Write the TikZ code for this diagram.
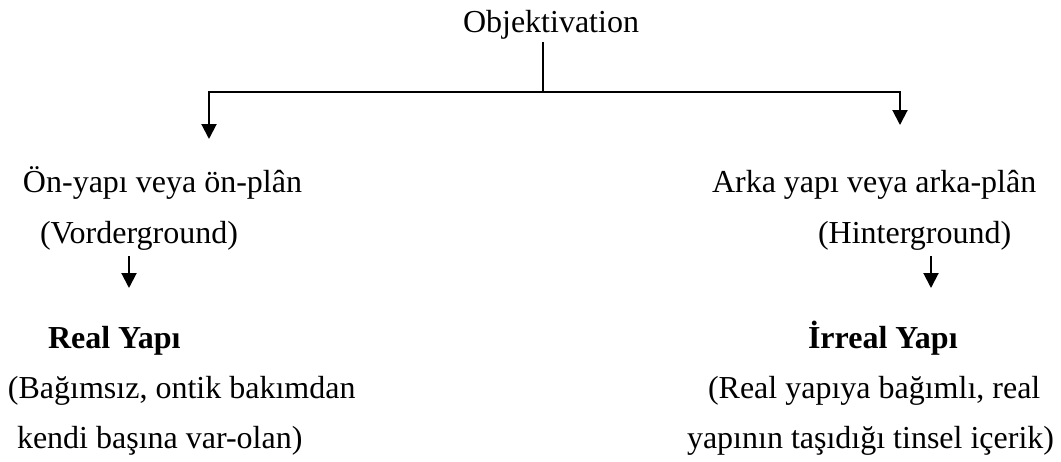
\documentclass[tikz,border=0pt]{standalone}
\usepackage{fontspec}
\setmainfont{Liberation Serif}
\usetikzlibrary{arrows.meta}
\tikzset{
  lbl/.style={anchor=base west, inner sep=0pt, outer sep=0pt, font=\fontsize{32}{38}\selectfont},
  blbl/.style={lbl, font=\fontsize{32}{38}\selectfont\bfseries},
  conn/.style={line width=2pt, draw=black},
  arr/.style={conn, -{Triangle[width=15pt,length=15pt]}}
}
\begin{document}
\begin{tikzpicture}[x=1pt,y=-1pt]
\useasboundingbox (0,0) rectangle (1061,461);
\node[lbl] (obj) at (463,32) {Objektivation};
\node[lbl] (on) at (23,192) {Ön-yapı veya ön-plân};
\node[lbl] (vor) at (40,243) {(Vorderground)};
\node[blbl] (real) at (48,348) {Real Yapı};
\node[lbl] (rd1) at (8,398) {(Bağımsız, ontik bakımdan};
\node[lbl] (rd2) at (17,448) {kendi başına var-olan)};
\node[lbl] (arka) at (712,192) {Arka yapı veya arka-plân};
\node[lbl] (hin) at (818,243) {(Hinterground)};
\node[blbl] (irr) at (808,348) {İrreal Yapı};
\node[lbl] (id1) at (708,398) {(Real yapıya bağımlı, real};
\node[lbl] (id2) at (687,448) {yapının taşıdığı tinsel içerik)};
\coordinate (objfoot) at (543,42);
\coordinate (junc) at (543,92);
\coordinate (lend) at (209,139);
\coordinate (rend) at (900,125);
\coordinate (vfoot) at (129,256);
\coordinate (vend) at (129,288);
\coordinate (hfoot) at (931,256);
\coordinate (hend) at (931,288);
\draw[conn] (objfoot) -- (junc);
\draw[arr] (junc) -| (lend);
\draw[arr] (junc) -| (rend);
\draw[arr] (vfoot) -- (vend);
\draw[arr] (hfoot) -- (hend);
\end{tikzpicture}
\end{document}
